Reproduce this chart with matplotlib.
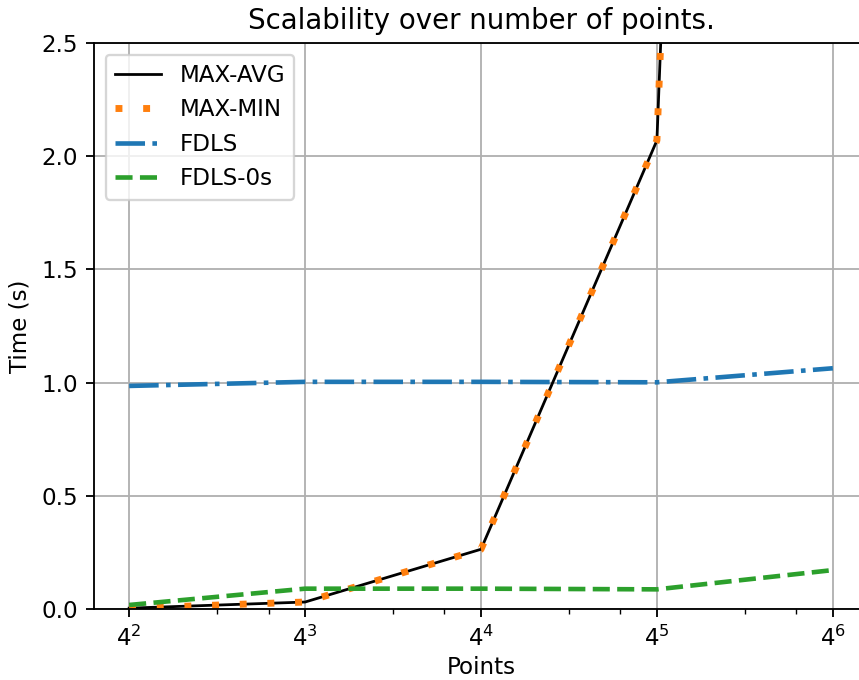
import matplotlib
matplotlib.use("Agg")
import matplotlib.pyplot as plt

# number of points per run and measured runtimes (seconds)
points = [16, 64, 256, 1024, 4096]
max_avg = [0.005, 0.032, 0.265, 2.07, 22.0]
max_min = [0.005, 0.032, 0.265, 2.07, 22.0]
fdls = [0.986, 1.004, 1.004, 1.002, 1.064]
fdls_0s = [0.019, 0.091, 0.091, 0.088, 0.173]

dpi = 166
fig = plt.figure(figsize=(859 / dpi, 680 / dpi), dpi=dpi)
ax = fig.add_axes([0.1094, 0.104, 0.9011, 0.8328])

ax.plot(points, max_avg, color="black", lw=1.2, label="MAX-AVG")
ax.plot(points, max_min, color="tab:orange", lw=3, linestyle=(0, (1, 3)), label="MAX-MIN")
ax.plot(points, fdls, color="tab:blue", lw=2, linestyle="-.", label="FDLS")
ax.plot(points, fdls_0s, color="tab:green", lw=2, linestyle="--", label="FDLS-0s")

ax.set_xscale("log", base=4)
ax.set_ylim(0, 2.5)
ax.grid(True)
ax.set_title("Scalability over number of points.")
ax.set_xlabel("Points", labelpad=2.5)
ax.set_ylabel("Time (s)")
ax.legend(loc="upper left")

fig.savefig("out.png", dpi=dpi)
